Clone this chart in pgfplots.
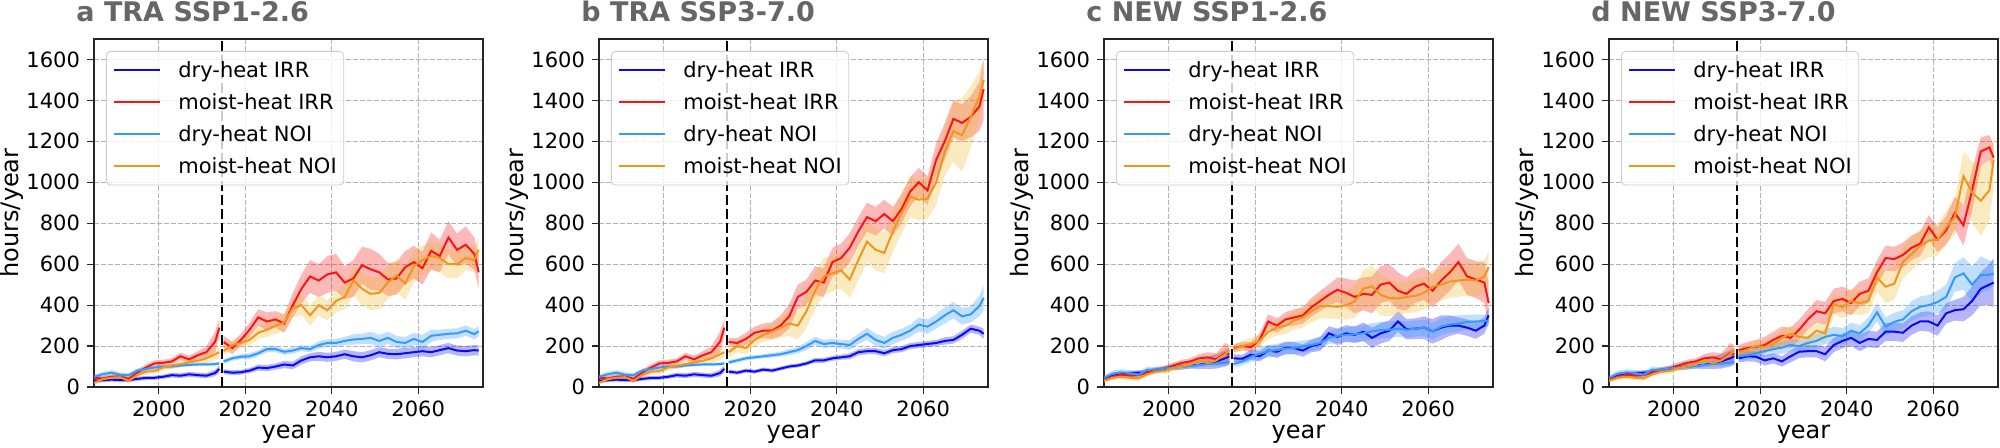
\documentclass[border=0pt]{standalone}
\usepackage{fontspec}
\setmainfont{DejaVu Sans}
\usepackage{pgfplots}
\usepackage{pgfplotstable}
\pgfplotsset{compat=1.18}
\usepgfplotslibrary{fillbetween}

\definecolor{cA}{RGB}{10,10,240}
\definecolor{cB}{RGB}{250,20,20}
\definecolor{cC}{RGB}{51,153,255}
\definecolor{cD}{RGB}{240,150,30}
\definecolor{cDb}{RGB}{235,185,45}
\definecolor{titlegray}{RGB}{102,102,102}

% columns: a = dry-heat IRR, b = moist-heat IRR, c = dry-heat NOI, d = moist-heat NOI; *e = half band width
\pgfplotstableread{
x a ae b be c ce d de
1985 30 10 45 12 50 10 20 10
1987 33 10 42 12 62 12 38 12
1989 36 10 50 12 70 12 45 12
1991 34 10 52 12 60 12 48 12
1993 33 10 40 12 58 10 30 12
1995 40 10 70 15 80 10 58 15
1997 44 10 95 15 88 10 75 15
1999 45 10 115 15 95 10 78 15
2001 50 10 118 15 100 10 95 15
2003 58 12 125 15 100 10 105 15
2005 55 12 150 18 105 8 112 15
2007 62 12 135 18 108 8 120 15
2009 58 12 155 20 110 8 128 20
2011 55 12 170 30 110 8 140 25
2013 68 15 220 50 112 8 160 30
2014 88 18 290 45 115 8 170 30
}\histTRA

\pgfplotstableread{
x a ae b be c ce d de
2015 75 12 220 30 125 10 175 20
2017 70 12 190 30 140 12 205 25
2019 72 12 230 30 148 12 215 25
2021 80 12 280 35 150 15 230 30
2023 95 15 340 40 165 15 265 30
2025 92 15 320 45 185 15 280 35
2027 100 15 330 40 185 15 300 40
2029 110 18 310 45 172 15 315 40
2031 105 18 400 60 178 15 385 45
2033 130 20 480 70 190 15 400 50
2035 145 20 540 80 185 15 350 50
2037 150 22 520 80 205 18 400 50
2039 145 22 550 90 215 18 375 50
2041 150 22 560 90 215 20 420 55
2043 160 22 510 80 225 20 440 60
2045 150 25 530 90 232 25 520 70
2047 145 25 595 90 235 25 480 80
2049 155 25 575 100 240 30 455 80
2051 170 25 560 90 225 30 460 80
2053 162 25 525 80 240 30 510 80
2055 160 25 530 80 220 30 545 80
2057 165 25 585 80 215 30 505 80
2059 170 25 610 80 235 30 590 80
2061 175 25 580 80 220 35 620 70
2063 170 25 665 90 250 30 640 70
2065 180 25 640 80 255 25 630 70
2067 190 25 730 80 260 25 600 70
2069 178 25 670 80 262 25 600 70
2071 175 25 695 90 275 25 630 60
2073 180 25 650 80 258 25 620 60
2074 178 25 560 80 272 25 670 60
}\futA

\pgfplotstableread{
x a ae b be c ce d de
2015 75 10 220 20 120 10 170 25
2017 70 10 215 25 130 10 200 30
2019 80 10 235 30 140 10 190 30
2021 75 10 265 30 145 10 230 30
2023 85 10 275 35 150 10 255 35
2025 80 10 275 40 155 12 270 40
2027 90 10 300 50 160 12 290 50
2029 100 10 345 60 170 15 310 60
2031 105 10 440 60 180 15 300 70
2033 115 10 465 60 200 20 370 80
2035 130 12 520 70 225 20 470 90
2037 130 12 510 70 210 20 540 90
2039 140 12 610 70 215 20 555 90
2041 145 12 630 70 210 20 570 90
2043 150 15 680 70 205 25 525 90
2045 170 15 760 70 235 25 620 100
2047 175 15 830 70 260 30 710 100
2049 175 15 810 70 230 30 670 100
2051 165 15 845 70 215 30 655 100
2053 180 15 810 70 240 30 760 100
2055 185 15 870 70 255 30 850 100
2057 200 15 955 70 275 30 930 100
2059 205 15 1000 70 305 35 915 100
2061 210 15 960 70 295 35 920 100
2063 215 15 1110 80 320 35 1000 110
2065 225 18 1200 90 350 40 1150 120
2067 230 18 1310 90 375 40 1250 150
2069 255 20 1290 90 345 40 1230 180
2071 285 20 1320 100 355 40 1320 150
2073 275 20 1370 120 395 50 1420 120
2074 260 25 1455 150 435 60 1500 110
}\futB

\pgfplotstableread{
x a ae b be c ce d de
1985 40 10 35 10 45 12 30 10
1987 55 10 50 10 65 15 45 10
1989 62 10 60 12 72 15 50 12
1991 68 10 55 12 68 15 45 12
1993 70 12 58 12 60 15 42 12
1995 72 12 70 12 85 15 62 12
1997 80 12 85 12 85 12 75 12
1999 88 12 90 15 90 12 78 15
2001 95 12 105 15 95 12 92 15
2003 100 15 118 15 98 12 100 15
2005 105 15 125 15 102 12 110 15
2007 108 20 140 20 108 12 130 20
2009 118 30 145 25 112 12 118 20
2011 125 35 135 30 115 15 130 25
2013 140 40 165 50 118 15 160 30
2014 150 40 160 45 122 15 180 30
}\histNEW

\pgfplotstableread{
x a ae b be c ce d de
2015 140 20 190 20 112 15 185 20
2017 138 20 200 20 125 20 200 25
2019 158 25 195 25 148 25 210 30
2021 150 25 230 30 162 30 225 30
2023 178 25 320 35 175 30 270 35
2025 172 30 300 35 180 30 290 40
2027 192 30 330 35 188 30 300 40
2029 190 30 340 40 190 30 325 45
2031 178 30 350 40 198 30 340 50
2033 200 30 390 45 205 30 370 55
2035 210 35 420 50 215 30 395 60
2037 262 35 450 50 240 30 395 60
2039 245 40 475 60 250 35 392 60
2041 262 40 460 70 255 35 400 70
2043 255 40 440 80 258 40 418 80
2045 270 45 455 80 262 40 480 90
2047 240 50 450 90 272 40 492 100
2049 262 50 500 90 278 40 450 100
2051 275 50 510 90 280 40 435 90
2053 320 50 470 90 285 40 432 80
2055 282 50 455 80 280 40 440 80
2057 285 50 490 80 285 40 445 80
2059 290 55 505 80 290 40 460 80
2061 272 60 470 80 272 40 490 80
2063 290 60 520 90 295 40 500 80
2065 300 50 560 90 305 40 515 80
2067 300 40 610 90 310 40 520 80
2069 290 40 540 90 318 35 525 80
2071 275 40 525 90 320 35 520 80
2073 300 40 510 100 322 30 540 80
2074 350 40 410 100 325 30 585 80
}\futC

\pgfplotstableread{
x a ae b be c ce d de
2015 140 20 180 25 150 20 170 20
2017 150 25 190 30 155 20 182 25
2019 148 25 195 35 165 25 200 30
2021 130 25 205 40 175 25 195 30
2023 140 25 230 40 185 30 210 35
2025 125 25 250 45 192 30 240 40
2027 150 30 240 50 205 30 260 40
2029 172 30 280 50 200 30 245 40
2031 175 30 330 50 215 35 240 40
2033 175 30 370 55 225 35 275 45
2035 160 35 360 55 245 35 262 50
2037 205 35 420 60 255 40 405 50
2039 225 35 430 60 248 40 390 55
2041 240 40 410 60 275 40 420 60
2043 215 40 455 60 262 40 410 60
2045 235 40 470 60 300 40 420 60
2047 230 40 560 60 365 45 535 70
2049 270 45 630 60 295 45 490 80
2051 270 45 625 60 318 45 505 80
2053 265 45 645 60 330 45 610 80
2055 300 45 680 60 370 50 650 80
2057 320 45 700 60 392 50 690 80
2059 320 50 780 60 400 50 715 80
2061 300 50 720 60 415 55 720 80
2063 360 50 765 70 440 60 780 80
2065 375 50 850 80 535 70 830 90
2067 380 60 790 100 555 80 1030 120
2069 420 70 960 100 500 90 950 150
2071 480 80 1150 70 548 90 910 170
2073 500 100 1170 60 548 70 960 150
2074 510 120 1120 60 555 60 1110 130
}\futD

\newcommand{\band}[4]{%
 \addplot[name path=U#4, draw=none, forget plot] table[x=x, y expr=\thisrow{#2}+\thisrow{#2e}] {#1};
 \addplot[name path=L#4, draw=none, forget plot] table[x=x, y expr=\thisrow{#2}-\thisrow{#2e}] {#1};
 \addplot[fill=#3, fill opacity=0.3, draw=none, forget plot] fill between[of=U#4 and L#4];
}

\newcommand{\drawpanel}[2]{%
 \band{#1}{a}{cA}{ha}\band{#1}{b}{cB}{hb}\band{#1}{c}{cC}{hc}\band{#1}{d}{cDb}{hd}
 \band{#2}{a}{cA}{fa}\band{#2}{b}{cB}{fb}\band{#2}{c}{cC}{fc}\band{#2}{d}{cDb}{fd}
 \addplot[cA, line width=1pt] table[x=x, y=a] {#1};
 \addplot[cB, line width=1pt] table[x=x, y=b] {#1};
 \addplot[cC, line width=1pt] table[x=x, y=c] {#1};
 \addplot[cD, line width=1pt] table[x=x, y=d] {#1};
 \addplot[cA, line width=1pt, forget plot] table[x=x, y=a] {#2};
 \addplot[cB, line width=1pt, forget plot] table[x=x, y=b] {#2};
 \addplot[cC, line width=1pt, forget plot] table[x=x, y=c] {#2};
 \addplot[cD, line width=1pt, forget plot] table[x=x, y=d] {#2};
 \addplot[black, line width=1pt, dash pattern=on 5pt off 2pt, forget plot] coordinates {(2014.5,0) (2014.5,1700)};
 \legend{dry-heat IRR, moist-heat IRR, dry-heat NOI, moist-heat NOI}
}

\tikzset{
 ptitle/.style={anchor=base west, inner sep=0pt, text=titlegray,
   font=\bfseries\fontsize{13.5}{16}\selectfont}
}

\pgfplotsset{
 panel/.style={
  scale only axis, width=194.5pt, height=174pt, anchor=south west,
  xmin=1985, xmax=2075, ymin=0, ymax=1700,
  xtick={2000,2020,2040,2060}, ytick={0,200,...,1600},
  /pgf/number format/assume math mode=true, /pgf/number format/1000 sep={},
  grid=major, major grid style={dash pattern=on 2.3pt off 1.2pt, line width=0.5pt, black!30},
  axis line style={line width=0.65pt, black!85},
  tick pos=left, tick align=outside, major tick length=3.5pt,
  tick style={line width=0.6pt, black!85},
  ticklabel style={font=\fontsize{10.5}{12.6}\selectfont},
  xlabel=year, ylabel=hours/year,
  label style={font=\fontsize{12}{14.4}\selectfont},
  xlabel style={at={(axis description cs:0.5,-0.1466)}, anchor=base},
  ylabel style={at={(axis description cs:-0.2108,0.5)}, anchor=center},
  legend cell align=left,
  legend image code/.code={\draw[##1, line width=1pt] (0pt,0pt) -- (23pt,0pt);},
  legend style={at={(axis description cs:0.0308,0.9655)}, anchor=north west,
   draw=black!20, rounded corners=2pt, fill=white, fill opacity=0.8, text opacity=1,
   inner xsep=3.5pt, inner ysep=5.3pt, row sep=7.8pt, column sep=8.5pt,
   nodes={inner sep=0pt, text height=7.6pt, text depth=0.6pt},
   font=\fontsize{10.5}{12.6}\selectfont},
 }
}

\begin{document}
\begin{tikzpicture}
\begin{axis}[panel, name=pa, at={(47pt,30.5pt)}]
\drawpanel{\histTRA}{\futA}
\end{axis}
\node[ptitle] at ([xshift=-9pt, yshift=8.5pt]pa.north west) {a TRA SSP1-2.6};
\begin{axis}[panel, name=pb, at={(299.5pt,30.5pt)}]
\drawpanel{\histTRA}{\futB}
\end{axis}
\node[ptitle] at ([xshift=-9pt, yshift=8.5pt]pb.north west) {b TRA SSP3-7.0};
\begin{axis}[panel, name=pc, at={(552pt,30.5pt)}]
\drawpanel{\histNEW}{\futC}
\end{axis}
\node[ptitle] at ([xshift=-9pt, yshift=8.5pt]pc.north west) {c NEW SSP1-2.6};
\begin{axis}[panel, name=pd, at={(804.5pt,30.5pt)}]
\drawpanel{\histNEW}{\futD}
\end{axis}
\node[ptitle] at ([xshift=-9pt, yshift=8.5pt]pd.north west) {d NEW SSP3-7.0};
\pgfresetboundingbox
\useasboundingbox (0,0) rectangle (1000pt,224pt);
\end{tikzpicture}
\end{document}
